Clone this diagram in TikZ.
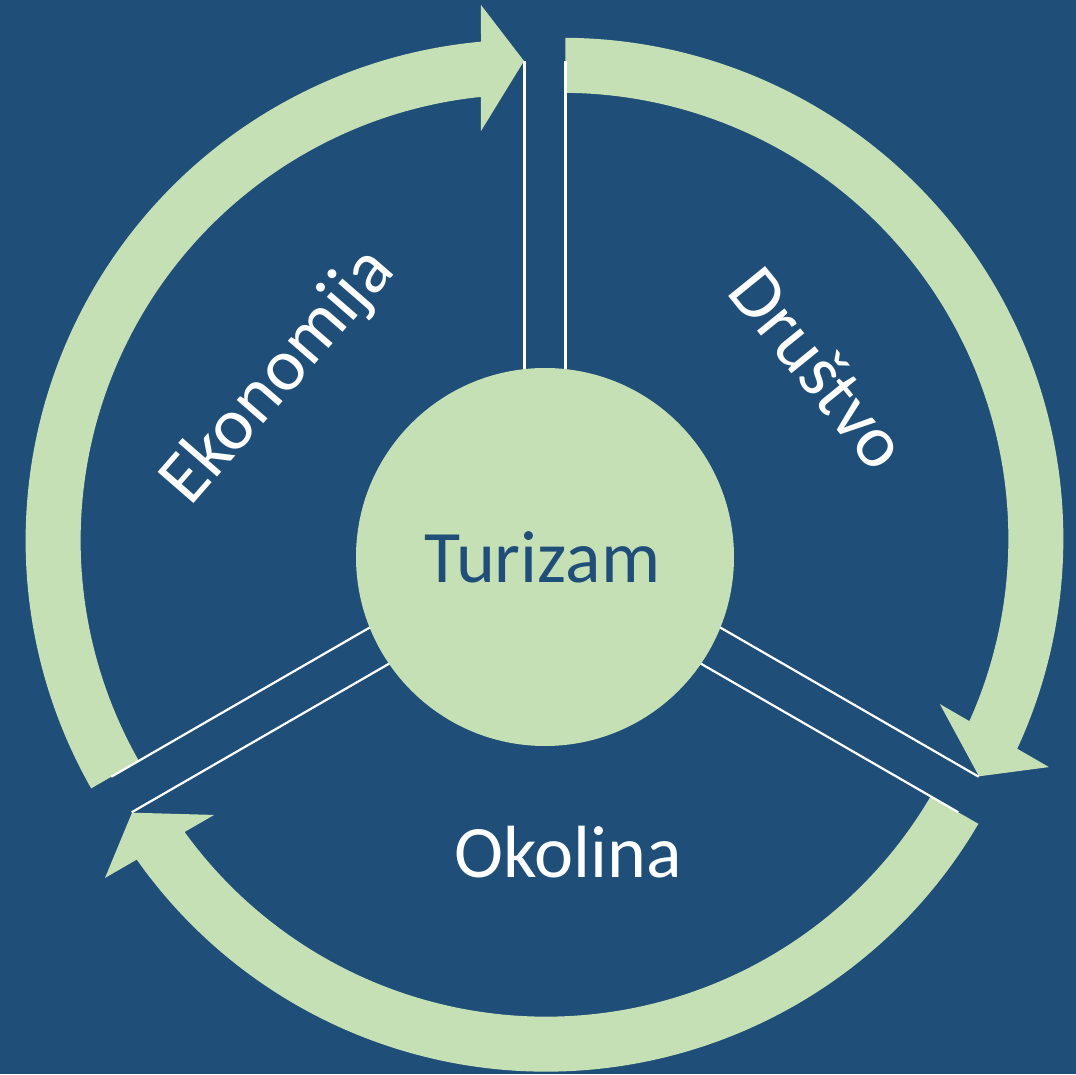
\documentclass[tikz,border=0pt]{standalone}
\usepackage{fontspec}
\setmainfont{Carlito}
\definecolor{bgblue}{HTML}{1F4E79}
\definecolor{leaf}{HTML}{C5E0B4}
\begin{document}
\begin{tikzpicture}[x=1pt,y=1pt,
  arrowband/.style={fill=leaf},
  sepline/.style={draw=white,line width=2.2pt},
  lbl/.style={font=\fontsize{74}{80}\selectfont,text=white,inner sep=0pt}]
\fill[bgblue] (-545,-524) rectangle (531,550);
\useasboundingbox (-545,-524) rectangle (531,550);
% three curved arrows (same shape rotated about the hub)
\foreach \r in {0,-120,120}{
  \begin{scope}[rotate=\r]
    \fill[arrowband] (-453.8,-238.4) arc[start angle=209.65,end angle=95.22,radius=501]
      -- (-64,545) -- (-21,489) -- (-64,419) -- (-64,453.1)
      arc[start angle=95.87,end angle=209.59,radius=446] -- cycle;
  \end{scope}
}
% white separator lines
\foreach \r in {0,-120,120}{
  \begin{scope}[rotate=\r]
    \coordinate (a\r) at (-20.5,489);
    \coordinate (b\r) at (-20.5,150);
    \coordinate (c\r) at (20.5,489);
    \coordinate (d\r) at (20.5,150);
    \draw[sepline] (a\r) -- (b\r);
    \draw[sepline] (c\r) -- (d\r);
  \end{scope}
}
% hub
\node[circle,fill=leaf,minimum size=378pt,inner sep=0pt] (hub) at (0,-7) {};
\node[lbl,text=bgblue,anchor=base] (tur) at (-2.5,-32) {Turizam};
\node[lbl,anchor=base] (oko) at (23.5,-327) {Okolina};
\node[lbl,rotate=49] (eko) at (-266,173) {Ekonomija};
\node[lbl,rotate=-51] (dru) at (274,182) {Društvo};
\end{tikzpicture}
\end{document}
